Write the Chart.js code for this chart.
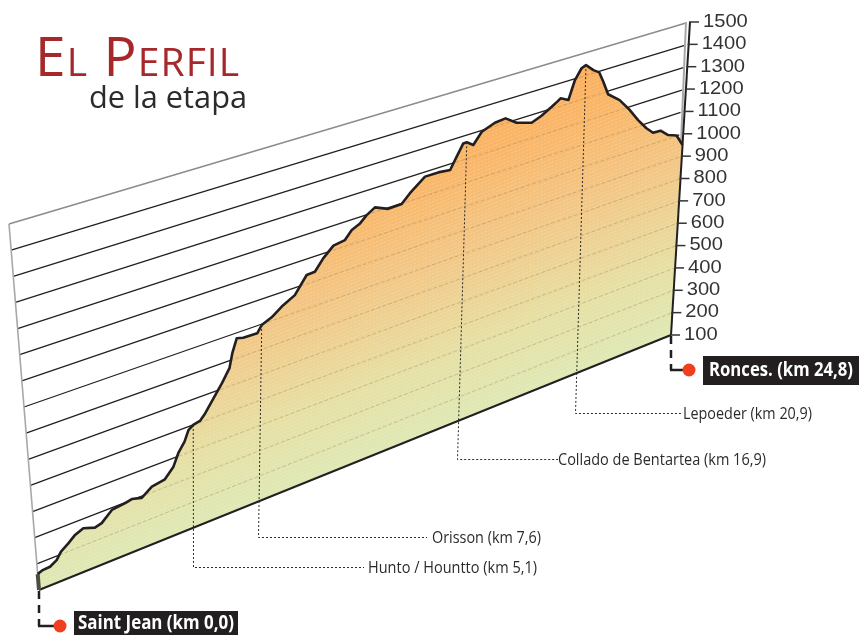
<!DOCTYPE html>
<html>
<head>
<meta charset="utf-8">
<title>El Perfil de la etapa</title>
<script src="https://cdn.jsdelivr.net/npm/chart.js@4"></script>
<style>
  html, body { margin: 0; padding: 0; background: #fff; }
  canvas { display: block; }
</style>
</head>
<body>
<canvas id="perfil" width="859" height="635"></canvas>
<script>
// Perfil de la etapa: km y altitud
const kmPerfil = [
  0, 0.18, 0.49, 0.76, 0.95, 1.25, 1.53, 1.86, 2.30, 2.57,
  2.99, 3.51, 3.77, 4.15, 4.56, 5.07, 5.42, 5.63, 5.89, 6.06,
  6.25, 6.51, 6.72, 7.06, 7.40, 7.71, 7.84, 8.03, 8.27, 8.80,
  8.98, 9.36, 9.75, 10.25, 10.71, 11.02, 11.34, 11.73, 12.16, 12.42,
  12.73, 12.98, 13.29, 13.78, 14.28, 14.59, 15.15, 15.64, 16.08, 16.32,
  16.56, 16.69, 16.93, 17.24, 17.72, 18.11, 18.52, 19.08, 19.44, 19.81,
  20.01, 20.13, 20.42, 20.64, 20.87, 21.03, 21.31, 21.53, 21.69, 21.89,
  22.33, 22.73, 23.06, 23.39, 23.65, 23.93, 24.23, 24.55, 24.8,
];
const altPerfil = [
  161, 168, 170, 185, 210, 230, 252, 265, 250, 257,
  292, 298, 304, 294, 322, 331, 367, 412, 448, 487,
  500, 506, 528, 575, 622, 671, 726, 779, 772, 770,
  797, 814, 843, 871, 936, 938, 981, 1019, 1026, 1058,
  1074, 1099, 1120, 1096, 1098, 1132, 1181, 1181, 1175, 1223,
  1270, 1270, 1250, 1295, 1316, 1321, 1287, 1267, 1284, 1309,
  1324, 1334, 1316, 1395, 1438, 1446, 1414, 1396, 1350, 1287,
  1245, 1186, 1129, 1080, 1050, 1048, 1017, 1002, 950,
];

// Puntos destacados
const hitosNombre = ['Hunto / Hountto (km 5,1)', 'Orisson (km 7,6)', 'Collado de Bentartea (km 16,9)', 'Lepoeder (km 20,9)'];
const hitosKm = [6.25, 8.98, 16.69, 21.03];
const hitosAlt = [500, 797, 1270, 1446];

const KM_MAX = 24.8;
const ALT_MIN = 100;
const ALT_MAX = 1500;

// Esquinas del plano inclinado en la pagina
const ESQ = { x00: 39, y00: 590, x10: 671, y10: 335, x01: 9, y01: 224, x11: 690, y11: 22 };

function inclinar(u, v) {
  return {
    x: (1 - v) * ((1 - u) * ESQ.x00 + u * ESQ.x10) + v * ((1 - u) * ESQ.x01 + u * ESQ.x11),
    y: (1 - v) * ((1 - u) * ESQ.y00 + u * ESQ.y10) + v * ((1 - u) * ESQ.y01 + u * ESQ.y11),
  };
}

// Pasa de valores a pagina usando las escalas del grafico
function proyectar(chart, km, alt) {
  const { left, width, bottom, height } = chart.chartArea;
  const u = (chart.scales.x.getPixelForValue(km) - left) / width;
  const v = (bottom - chart.scales.y.getPixelForValue(alt)) / height;
  return inclinar(u, v);
}

function linea(ctx, a, b) {
  ctx.beginPath();
  ctx.moveTo(a.x, a.y);
  ctx.lineTo(b.x, b.y);
  ctx.stroke();
}

const planoInclinado = {
  id: 'planoInclinado',
  afterDatasetsUpdate(chart) {
    chart.data.datasets.forEach((_, i) => {
      const meta = chart.getDatasetMeta(i);
      meta.data.forEach((punto, j) => {
        const p = meta.controller.getParsed(j);
        const q = proyectar(chart, p.x, p.y);
        punto.x = q.x;
        punto.y = q.y;
      });
    });
  },
  // Pared del fondo, lineas de altitud y marcas del eje
  beforeDatasetsDraw(chart) {
    const ctx = chart.ctx;
    const ticks = chart.scales.y.ticks;
    ctx.save();
    ctx.lineCap = 'butt';
    ticks.forEach((t) => {
      if (t.value === ALT_MIN) return;
      const a = proyectar(chart, 0, t.value);
      const b = proyectar(chart, KM_MAX, t.value);
      b.x -= 4;
      b.y += 1;
      ctx.strokeStyle = t.value === ALT_MAX ? '#8c8c8c' : '#231f20';
      ctx.lineWidth = t.value === ALT_MAX ? 1.6 : 1.3;
      linea(ctx, a, b);
    });
    ctx.strokeStyle = '#a8a8a8';
    ctx.lineWidth = 1.6;
    linea(ctx, proyectar(chart, 0, ALT_MAX), proyectar(chart, 0, altPerfil[0]));
    ctx.lineWidth = 2;
    linea(ctx, { x: 686, y: 22 }, { x: 681, y: 143 });
    ctx.restore();
  },
  // Textura y lineas tenues dentro del relleno
  afterDatasetDraw(chart, args) {
    if (chart.data.datasets[args.index].label !== 'relleno') return;
    const ctx = chart.ctx;
    ctx.save();
    ctx.beginPath();
    args.meta.data.forEach((p, i) => (i ? ctx.lineTo(p.x, p.y) : ctx.moveTo(p.x, p.y)));
    ctx.closePath();
    ctx.clip();
    ctx.strokeStyle = 'rgba(255,255,255,0.16)';
    ctx.lineWidth = 1.2;
    ctx.setLineDash([3, 1]);
    for (let y = 0; y < 520; y += 3.6) {
      ctx.beginPath();
      ctx.moveTo(0, 600 - y + 16);
      ctx.lineTo(859, 600 - y - 320);
      ctx.stroke();
      ctx.beginPath();
      ctx.moveTo(0, 600 + y + 16);
      ctx.lineTo(859, 600 + y - 320);
      ctx.stroke();
    }
    ctx.setLineDash([4, 2]);
    ctx.lineWidth = 1;
    ctx.strokeStyle = 'rgba(130,100,50,0.3)';
    chart.scales.y.ticks.forEach((t) => {
      if (t.value === ALT_MIN) return;
      linea(ctx, proyectar(chart, 0, t.value), proyectar(chart, KM_MAX, t.value));
    });
    ctx.restore();
  },
  afterDatasetsDraw(chart) {
    const ctx = chart.ctx;
    ctx.save();

    // Marcas y numeros del eje de altitud
    chart.scales.y.ticks.forEach((t) => {
      const p = proyectar(chart, KM_MAX, t.value);
      ctx.strokeStyle = '#333';
      ctx.lineWidth = 1.5;
      linea(ctx, { x: p.x - 1, y: p.y }, { x: p.x + 9, y: p.y });
      ctx.save();
      ctx.translate(p.x + 13, p.y);
      ctx.scale(1.15, 1);
      ctx.fillStyle = '#333';
      ctx.font = '17.5px "Liberation Sans"';
      ctx.textAlign = 'left';
      ctx.textBaseline = 'middle';
      ctx.fillText(String(t.value), 0, 0);
      ctx.restore();
    });

    // Guias de los puntos destacados
    const guias = [
      { bx: 193, by: 567, fin: 364, tx: 368, ancho: 169 },
      { bx: 258, by: 537, fin: 427, tx: 432, ancho: 109 },
      { bx: 457, by: 459, fin: 558, tx: 558, ancho: 208 },
      { bx: 575, by: 413, fin: 682, tx: 683, ancho: 129 },
    ];
    guias.forEach((g, i) => {
      const p = proyectar(chart, hitosKm[i], hitosAlt[i]);
      ctx.strokeStyle = '#2a2a2a';
      ctx.lineWidth = 1;
      ctx.setLineDash([2, 2]);
      ctx.beginPath();
      ctx.moveTo(p.x, p.y);
      ctx.lineTo(g.bx + 0.5, g.by + 0.5);
      ctx.lineTo(g.fin, g.by + 0.5);
      ctx.stroke();
      ctx.setLineDash([]);
      ctx.fillStyle = '#2b2b2b';
      ctx.font = '16.5px "Open Sans"';
      ctx.textAlign = 'left';
      ctx.textBaseline = 'middle';
      ctx.fillText(hitosNombre[i], g.tx, g.by + 1, g.ancho);
    });

    // Salida y llegada
    const extremos = [
      { km: 0, yFin: 626, puntoX: 60, puntoY: 626, caja: [74, 611, 164, 24], tx: 78, ancho: 156, texto: 'Saint Jean (km 0,0)' },
      { km: KM_MAX, yFin: 370, puntoX: 689, puntoY: 370, caja: [703, 356, 156, 29], tx: 709, ancho: 144, texto: 'Ronces. (km 24,8)' },
    ];
    extremos.forEach((e) => {
      const p = proyectar(chart, e.km, ALT_MIN);
      ctx.strokeStyle = '#231f20';
      ctx.lineWidth = 2.5;
      ctx.setLineDash([8, 6]);
      linea(ctx, { x: p.x, y: p.y + 1 }, { x: p.x, y: e.yFin });
      ctx.setLineDash([]);
      linea(ctx, { x: p.x - 1, y: e.yFin }, { x: e.puntoX, y: e.puntoY });
      ctx.fillStyle = '#f03e20';
      ctx.beginPath();
      ctx.arc(e.puntoX, e.puntoY, 6.5, 0, Math.PI * 2);
      ctx.fill();
      ctx.fillStyle = '#231f20';
      ctx.fillRect(...e.caja);
      ctx.fillStyle = '#fff';
      ctx.font = 'bold 20px "Open Sans"';
      ctx.textAlign = 'left';
      ctx.textBaseline = 'middle';
      ctx.fillText(e.texto, e.tx, e.caja[1] + e.caja[3] / 2, e.ancho);
    });

    // Titulo
    ctx.fillStyle = '#a6282b';
    ctx.font = 'small-caps 55px "Open Sans"';
    ctx.letterSpacing = '1.1px';
    ctx.textAlign = 'left';
    ctx.textBaseline = 'alphabetic';
    ctx.fillText('El Perfil', 35, 76);
    ctx.letterSpacing = '0px';
    ctx.fillStyle = '#2b2b2b';
    ctx.font = '31px "Open Sans"';
    ctx.fillText('de la etapa', 89, 108, 158);
    ctx.restore();
  },
};

const ctx = document.getElementById('perfil').getContext('2d');

// Degradado perpendicular a la base
const degradado = ctx.createLinearGradient(355, 462, 237, 165);
degradado.addColorStop(0, '#dfe8b4');
degradado.addColorStop(0.2, '#e6e0a4');
degradado.addColorStop(0.5, '#f3c684');
degradado.addColorStop(0.75, '#fab566');
degradado.addColorStop(1, '#fbab55');

const puntosPerfil = kmPerfil.map((km, i) => ({ x: km, y: altPerfil[i] }));

new Chart(ctx, {
  type: 'line',
  data: {
    datasets: [
      {
        label: 'perfil',
        data: puntosPerfil,
        borderColor: '#231f20',
        borderWidth: 2.6,
        borderJoinStyle: 'round',
        pointRadius: 0,
        fill: false,
      },
      {
        label: 'salida',
        data: [{ x: 0, y: ALT_MIN }, { x: 0, y: altPerfil[0] }],
        borderColor: '#4a4f45',
        borderWidth: 4,
        pointRadius: 0,
        fill: false,
      },
      {
        label: 'base',
        data: [{ x: 0, y: ALT_MIN }, { x: KM_MAX, y: ALT_MIN }],
        borderColor: '#231f20',
        borderWidth: 2,
        pointRadius: 0,
        fill: false,
      },
      {
        label: 'eje',
        data: [{ x: KM_MAX, y: ALT_MIN }, { x: KM_MAX, y: ALT_MAX }],
        borderColor: '#231f20',
        borderWidth: 2,
        pointRadius: 0,
        fill: false,
      },
      {
        label: 'relleno',
        data: [...puntosPerfil, { x: KM_MAX, y: ALT_MIN }, { x: 0, y: ALT_MIN }],
        borderWidth: 0,
        pointRadius: 0,
        backgroundColor: degradado,
        fill: 'shape',
      },
    ],
  },
  options: {
    responsive: false,
    animation: false,
    layout: { padding: 0 },
    clip: false,
    scales: {
      x: { type: 'linear', display: false, min: 0, max: KM_MAX },
      y: { type: 'linear', display: false, min: ALT_MIN, max: ALT_MAX, ticks: { stepSize: 100 } },
    },
    plugins: { legend: { display: false }, tooltip: { enabled: false } },
  },
  plugins: [planoInclinado],
});
</script>
</body>
</html>
